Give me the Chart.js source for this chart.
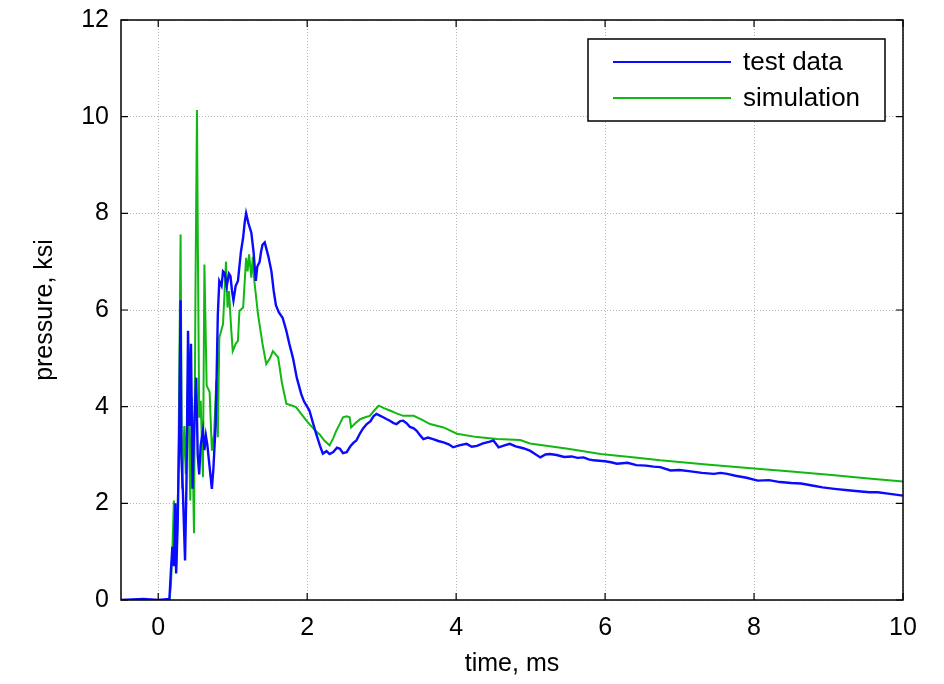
<!DOCTYPE html>
<html lang="en">
<head>
    <meta charset="UTF-8">
    <title>Pressure vs time</title>
    <script src="https://cdn.jsdelivr.net/npm/chart.js"></script>
    <style>
        body { margin: 0; background: #fff; }
    </style>
</head>
<body>
    <canvas id="pressureChart" width="944" height="684"></canvas>
    <script>
        // values (time in ms, pressure in ksi)
        const testTime = [-0.5, -0.2, 0.0, 0.15, 0.17, 0.19, 0.21, 0.23, 0.24, 0.26, 0.28, 0.30, 0.31, 0.33, 0.35, 0.36, 0.38, 0.40, 0.42, 0.44,
            0.46, 0.48, 0.51, 0.53, 0.55, 0.57, 0.60, 0.62, 0.64, 0.66, 0.68, 0.70, 0.72, 0.74, 0.75, 0.77, 0.78, 0.80, 0.82, 0.85,
            0.87, 0.89, 0.92, 0.95, 0.97, 0.99, 1.01, 1.04, 1.07, 1.09, 1.11, 1.14, 1.16, 1.18, 1.21, 1.25, 1.28, 1.31, 1.33, 1.36,
            1.38, 1.40, 1.43, 1.45, 1.48, 1.52, 1.55, 1.58, 1.62, 1.67, 1.72, 1.76, 1.81, 1.86, 1.92, 1.96, 2.00, 2.03, 2.08, 2.12,
            2.17, 2.21, 2.26, 2.30, 2.35, 2.40, 2.44, 2.48, 2.53, 2.58, 2.62, 2.66, 2.71, 2.75, 2.80, 2.85, 2.89, 2.93, 2.97, 3.02,
            3.07, 3.11, 3.16, 3.20, 3.25, 3.29, 3.34, 3.38, 3.43, 3.47, 3.52, 3.56, 3.62, 3.69, 3.76, 3.83, 3.90, 3.96, 4.04, 4.14,
            4.21, 4.28, 4.36, 4.44, 4.50, 4.57, 4.65, 4.72, 4.80, 4.90, 4.99, 5.06, 5.13, 5.20, 5.26, 5.35, 5.45, 5.55, 5.63, 5.71,
            5.78, 5.85, 5.92, 6.00, 6.08, 6.16, 6.30, 6.42, 6.55, 6.65, 6.74, 6.88, 7.00, 7.15, 7.30, 7.46, 7.55, 7.64, 7.75, 7.90,
            8.05, 8.20, 8.35, 8.50, 8.63, 8.78, 8.92, 9.08, 9.26, 9.40, 9.55, 9.66, 9.80, 10.0];
        const testPressure = [0, 0.02, 0, 0.02, 0.6, 1.1, 0.7, 2.0, 0.55, 1.5, 3.3, 6.2, 3.0, 2.3, 1.3, 0.82, 2.5, 5.57, 3.6, 5.3,
            2.3, 3.5, 4.6, 3.0, 2.6, 3.2, 3.5, 3.1, 3.4, 3.2, 2.9, 2.6, 2.3, 2.7, 3.0, 3.6, 4.3, 5.9, 6.6, 6.5,
            6.8, 6.77, 6.5, 6.75, 6.7, 6.4, 6.2, 6.5, 6.6, 6.9, 7.2, 7.5, 7.8, 8.0, 7.8, 7.6, 7.2, 6.6, 6.9, 6.99,
            7.2, 7.35, 7.4, 7.28, 7.1, 6.8, 6.4, 6.1, 5.95, 5.84, 5.57, 5.3, 5.0, 4.6, 4.26, 4.1, 4.0, 3.92, 3.65, 3.44,
            3.2, 3.03, 3.08, 3.02, 3.06, 3.15, 3.13, 3.04, 3.06, 3.18, 3.25, 3.30, 3.45, 3.55, 3.64, 3.70, 3.80, 3.85, 3.82, 3.78,
            3.74, 3.71, 3.66, 3.64, 3.70, 3.71, 3.65, 3.58, 3.55, 3.50, 3.40, 3.33, 3.36, 3.33, 3.29, 3.26, 3.22, 3.16, 3.20, 3.23,
            3.17, 3.19, 3.24, 3.27, 3.30, 3.16, 3.20, 3.23, 3.18, 3.14, 3.09, 3.02, 2.95, 3.01, 3.02, 3.00, 2.96, 2.97, 2.94, 2.95,
            2.91, 2.89, 2.88, 2.87, 2.85, 2.82, 2.84, 2.79, 2.78, 2.76, 2.75, 2.68, 2.69, 2.66, 2.63, 2.61, 2.63, 2.61, 2.57, 2.53,
            2.47, 2.48, 2.44, 2.42, 2.41, 2.37, 2.33, 2.30, 2.27, 2.25, 2.23, 2.23, 2.20, 2.16];

        const simTime = [-0.5, 0.15, 0.17, 0.19, 0.21, 0.23, 0.24, 0.26, 0.27, 0.30, 0.32, 0.35, 0.37, 0.40, 0.43, 0.45, 0.48, 0.50, 0.52, 0.53,
            0.55, 0.57, 0.60, 0.62, 0.65, 0.69, 0.72, 0.75, 0.78, 0.80, 0.82, 0.87, 0.91, 0.93, 0.95, 0.98, 1.00, 1.04, 1.07, 1.09,
            1.14, 1.18, 1.20, 1.22, 1.25, 1.27, 1.29, 1.34, 1.40, 1.45, 1.50, 1.54, 1.61, 1.66, 1.72, 1.80, 1.85, 1.92, 1.99, 2.03,
            2.10, 2.17, 2.23, 2.30, 2.35, 2.39, 2.44, 2.48, 2.53, 2.57, 2.59, 2.65, 2.71, 2.78, 2.84, 2.90, 2.96, 3.03, 3.11, 3.20,
            3.29, 3.43, 3.55, 3.65, 3.83, 4.01, 4.28, 4.55, 4.86, 4.99, 5.50, 5.94, 6.40, 6.74, 7.40, 8.00, 8.50, 9.08, 9.50, 10.0];
        const simPressure = [0, 0, 0.3, 1.04, 2.06, 1.2, 0.62, 1.8, 2.6, 7.56, 2.3, 3.6, 2.6, 4.6, 2.06, 4.2, 1.38, 6.4, 10.14, 7.76,
            3.77, 4.12, 2.54, 6.94, 4.44, 4.3, 3.09, 3.43, 4.54, 3.37, 5.43, 5.71, 7.0, 6.05, 6.39, 5.6, 5.15, 5.3, 5.36, 5.98,
            6.05, 7.08, 6.8, 7.15, 6.67, 7.1, 6.6, 5.91, 5.3, 4.88, 5.0, 5.15, 5.02, 4.5, 4.06, 4.02, 3.99, 3.85, 3.71, 3.64,
            3.52, 3.42, 3.30, 3.20, 3.35, 3.50, 3.65, 3.78, 3.80, 3.78, 3.57, 3.66, 3.74, 3.78, 3.81, 3.92, 4.02, 3.97, 3.92, 3.86,
            3.81, 3.81, 3.72, 3.64, 3.57, 3.44, 3.37, 3.33, 3.31, 3.24, 3.13, 3.02, 2.95, 2.89, 2.80, 2.72, 2.66, 2.58, 2.52, 2.45];

        const xTickValues = [0, 2, 4, 6, 8, 10];
        const yTickValues = [0, 2, 4, 6, 8, 10, 12];
        const seriesNames = ['test data', 'simulation'];

        const blue = '#0a0aff';
        const green = '#12b812';
        const fontFamily = '"Liberation Sans", Arial, sans-serif';

        function toPoints(xs, ys) {
            return xs.map((x, i) => ({ x: x, y: ys[i] }));
        }

        // box around the plot, inward tick marks and the legend box
        const framePlugin = {
            id: 'frame',
            afterDraw(chart) {
                const ctx = chart.ctx;
                const area = chart.chartArea;
                const xs = chart.scales.x;
                const ys = chart.scales.y;
                ctx.save();
                ctx.strokeStyle = '#000';
                ctx.lineWidth = 1.5;
                ctx.strokeRect(area.left, area.top, area.right - area.left, area.bottom - area.top);

                ctx.lineWidth = 1.2;
                ctx.beginPath();
                xTickValues.forEach(v => {
                    const px = xs.getPixelForValue(v);
                    ctx.moveTo(px, area.bottom); ctx.lineTo(px, area.bottom - 7);
                    ctx.moveTo(px, area.top); ctx.lineTo(px, area.top + 7);
                });
                yTickValues.forEach(v => {
                    const py = ys.getPixelForValue(v);
                    ctx.moveTo(area.left, py); ctx.lineTo(area.left + 7, py);
                    ctx.moveTo(area.right, py); ctx.lineTo(area.right - 7, py);
                });
                ctx.stroke();

                // legend
                const lx = 588, ly = 39, lw = 297, lh = 82;
                ctx.fillStyle = '#fff';
                ctx.fillRect(lx, ly, lw, lh);
                ctx.lineWidth = 1.5;
                ctx.strokeStyle = '#000';
                ctx.strokeRect(lx, ly, lw, lh);
                const colors = [blue, green];
                ctx.font = '26px ' + fontFamily;
                ctx.textBaseline = 'middle';
                seriesNames.forEach((name, i) => {
                    const yy = ly + 23 + i * 36;
                    ctx.strokeStyle = colors[i];
                    ctx.lineWidth = 2;
                    ctx.beginPath();
                    ctx.moveTo(613, yy);
                    ctx.lineTo(731, yy);
                    ctx.stroke();
                    ctx.fillStyle = '#000';
                    ctx.fillText(name, 743, yy + 1);
                });
                ctx.restore();
            }
        };

        const ctx = document.getElementById('pressureChart').getContext('2d');

        new Chart(ctx, {
            type: 'line',
            data: {
                datasets: [{
                    label: seriesNames[0],
                    data: toPoints(testTime, testPressure),
                    borderColor: blue,
                    borderWidth: 2.4,
                    pointRadius: 0,
                    tension: 0
                }, {
                    label: seriesNames[1],
                    data: toPoints(simTime, simPressure),
                    borderColor: green,
                    borderWidth: 2,
                    pointRadius: 0,
                    tension: 0
                }]
            },
            options: {
                responsive: false,
                animation: false,
                layout: {
                    padding: { top: 20, right: 41, left: 0, bottom: 0 }
                },
                plugins: {
                    legend: { display: false },
                    tooltip: { enabled: false }
                },
                scales: {
                    x: {
                        type: 'linear',
                        min: -0.5,
                        max: 10,
                        afterBuildTicks: scale => { scale.ticks = xTickValues.map(v => ({ value: v })); },
                        afterFit: scale => {
                            scale.height = 84;
                            scale.paddingLeft = 0;
                            scale.paddingRight = 0;
                        },
                        ticks: {
                            padding: 13,
                            color: '#000',
                            font: { family: fontFamily, size: 25 }
                        },
                        grid: {
                            color: '#b4b4b4',
                            lineWidth: 1,
                            drawTicks: false
                        },
                        border: { display: false, dash: [1, 2] },
                        title: {
                            display: true,
                            text: 'time, ms',
                            color: '#000',
                            font: { family: fontFamily, size: 25 },
                            padding: { top: 0, bottom: 5 }
                        }
                    },
                    y: {
                        min: 0,
                        max: 12,
                        afterBuildTicks: scale => { scale.ticks = yTickValues.map(v => ({ value: v })); },
                        afterFit: scale => {
                            scale.width = 121;
                            scale.paddingTop = 0;
                            scale.paddingBottom = 0;
                        },
                        ticks: {
                            padding: 12,
                            color: '#000',
                            font: { family: fontFamily, size: 25 }
                        },
                        grid: {
                            color: '#b4b4b4',
                            lineWidth: 1,
                            drawTicks: false
                        },
                        border: { display: false, dash: [1, 2] },
                        title: {
                            display: true,
                            text: 'pressure, ksi',
                            color: '#000',
                            font: { family: fontFamily, size: 25 },
                            padding: { top: 30, bottom: 0 }
                        }
                    }
                }
            },
            plugins: [framePlugin]
        });
    </script>
</body>
</html>
